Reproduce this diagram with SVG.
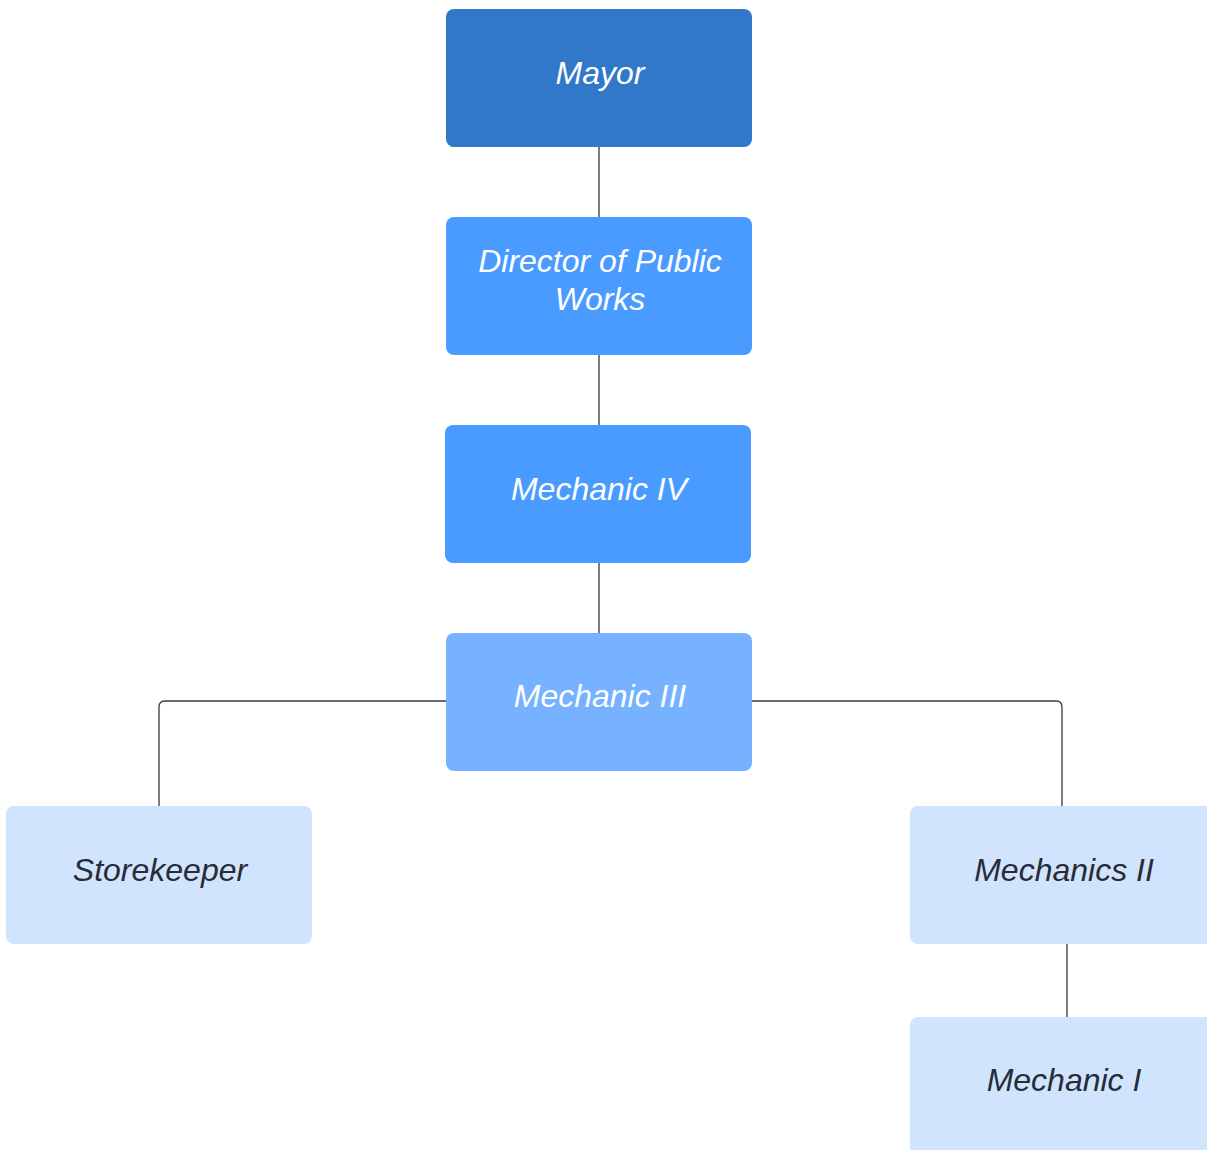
<svg xmlns="http://www.w3.org/2000/svg" width="1207" height="1150" viewBox="0 0 1207 1150">
<style>
.n rect{rx:8;ry:8}
.t{font-family:"Liberation Sans",Arial,sans-serif;font-style:italic;font-size:32px;text-anchor:middle}
.w{fill:#ffffff}
.d{fill:#282c36}
.c{fill:none;stroke:#333843;stroke-width:1.3}
</style>
<rect width="1207" height="1150" fill="#ffffff"/>
<g id="connectors">
<path class="c" d="M599 147V217"/>
<path class="c" d="M599 355V425"/>
<path class="c" d="M599 563V633"/>
<path class="c" d="M446 701H165Q159 701 159 707V806"/>
<path class="c" d="M752 701H1056Q1062 701 1062 707V806"/>
<path class="c" d="M1067 944V1017"/>
</g>
<g id="mayor" class="n"><rect x="446" y="9" width="306" height="138" fill="#3178c9"/><text class="t w" x="600" y="84">Mayor</text></g>
<g id="director" class="n"><rect x="446" y="217" width="306" height="138" fill="#4a9bff"/><text class="t w" x="600" y="272">Director of Public</text><text class="t w" x="600" y="310">Works</text></g>
<g id="mechanic4" class="n"><rect x="445" y="425" width="306" height="138" fill="#4a9bff"/><text class="t w" x="599" y="500">Mechanic IV</text></g>
<g id="mechanic3" class="n"><rect x="446" y="633" width="306" height="138" fill="#76b2ff"/><text class="t w" x="600" y="707">Mechanic III</text></g>
<g id="storekeeper" class="n"><rect x="6" y="806" width="306" height="138" fill="#d0e4fd"/><text class="t d" x="160" y="881">Storekeeper</text></g>
<g id="mechanics2" class="n"><rect x="910" y="806" width="306" height="138" fill="#d0e4fd"/><text class="t d" x="1064" y="881">Mechanics II</text></g>
<g id="mechanic1" class="n"><rect x="910" y="1017" width="306" height="138" fill="#d0e4fd"/><text class="t d" x="1064" y="1091">Mechanic I</text></g>
</svg>
